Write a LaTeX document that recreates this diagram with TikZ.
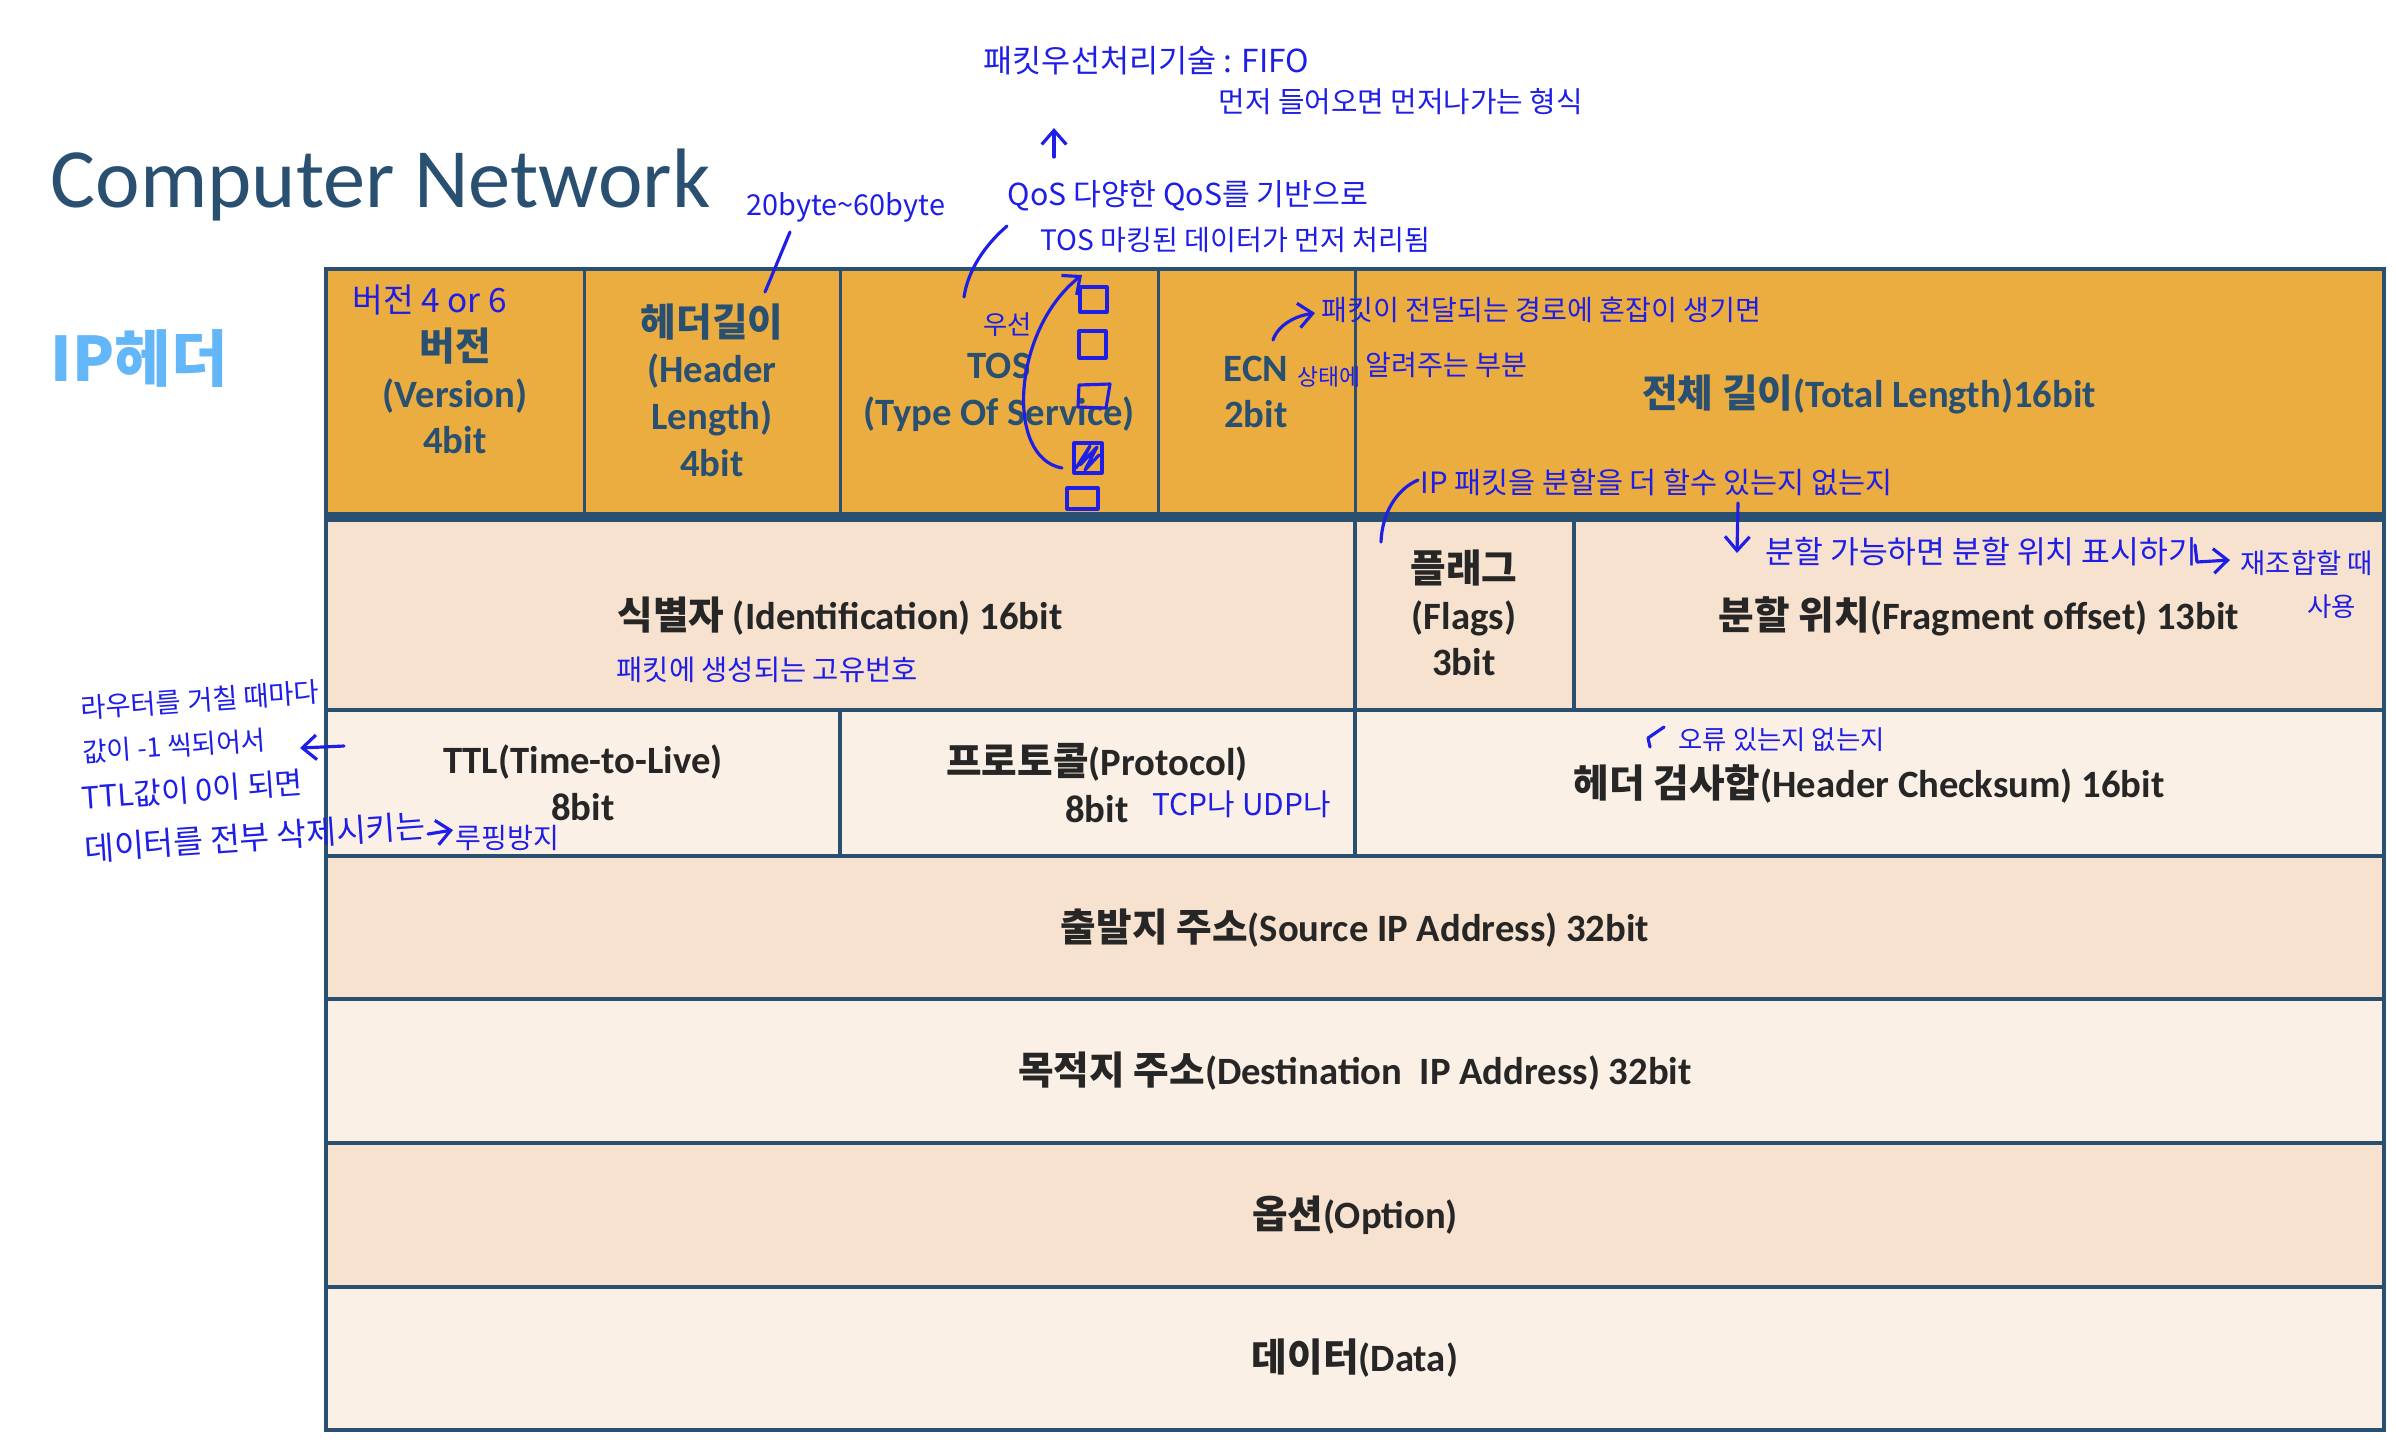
\documentclass[tikz,border=0pt]{standalone}
\usepackage{fontspec}
\setmainfont{Carlito}
\newfontfamily\krfont{Noto Sans CJK KR}
\usetikzlibrary{arrows.meta}

\definecolor{cnavy}{RGB}{41,79,113}
\definecolor{corange}{RGB}{235,173,64}
\definecolor{cpeach}{RGB}{247,226,207}
\definecolor{ccream}{RGB}{251,240,230}
\definecolor{csky}{RGB}{99,182,248}
\definecolor{cink}{RGB}{38,38,38}
\definecolor{cpen}{RGB}{30,30,230}

\newcommand{\kor}[1]{{\krfont #1}}

\begin{document}
\begin{tikzpicture}[x=0.01cm, y=-0.01cm,
    field/.style={align=center, font=\bfseries\fontsize{11}{13.3}\selectfont, text=cink, inner sep=0pt},
    hfield/.style={field, text=cnavy},
    gridline/.style={draw=cnavy, line width=1.1pt},
    note/.style={text=cpen, font=\krfont\fontsize{#1}{#1}\selectfont, inner sep=0pt, anchor=west},
    note/.default=8.5,
    stroke/.style={draw=cpen, line width=0.9pt, line cap=round, line join=round},
    strokearrow/.style={stroke, -{Straight Barb[length=4pt, width=7pt]}}
]
\useasboundingbox (0,0) rectangle (2396,1444);

% Title
\node[anchor=base west, font=\fontsize{24}{28}\selectfont, text=cnavy, inner sep=0pt] (title) at (50,207) {Computer Network};
\node[anchor=west, font=\krfont\bfseries\fontsize{17.5}{20}\selectfont, text=csky, inner sep=0pt] (iphdr) at (50,359) {IP헤더};

% Rows
\fill[corange] (326,269) rectangle (2384,517);
\fill[cpeach] (326,517) rectangle (2384,710);
\fill[ccream] (326,710) rectangle (2384,856);
\fill[cpeach] (326,856) rectangle (2384,999);
\fill[ccream] (326,999) rectangle (2384,1143);
\fill[cpeach] (326,1143) rectangle (2384,1287);
\fill[ccream] (326,1287) rectangle (2384,1430);

% Grid
\draw[gridline, line width=0.85pt] (584,269) -- (584,517);
\draw[gridline, line width=0.85pt] (840,269) -- (840,517);
\draw[gridline, line width=0.85pt] (1158,269) -- (1158,517);
\draw[gridline, line width=0.85pt] (1355,269) -- (1355,517);
\draw[gridline] (1355,517) -- (1355,856);
\draw[gridline] (1574,517) -- (1574,710);
\draw[gridline] (840,710) -- (840,856);
\draw[gridline] (326,710) -- (2384,710);
\draw[gridline] (326,856) -- (2384,856);
\draw[gridline] (326,999) -- (2384,999);
\draw[gridline] (326,1143) -- (2384,1143);
\draw[gridline] (326,1287) -- (2384,1287);
\draw[gridline] (326,269) rectangle (2384,1430);
\draw[gridline, line width=2.85pt] (326,517) -- (2384,517);

% Header fields
\node[hfield] (version) at (455,391) {\kor{버전}\\(Version)\\4bit};
\node[hfield] (hlen) at (712,390) {\kor{헤더길이}\\(Header\\Length)\\4bit};
\node[hfield] (tos) at (999,392) {TOS\\(Type Of Service)};
\node[hfield] (ecn) at (1256,392) {ECN\\2bit};
\node[hfield] (total) at (1869,394) {\kor{전체 길이}(Total Length)16bit};
\node[field] (ident) at (840,616) {\kor{식별자} (Identification) 16bit};
\node[field] (flags) at (1464,613) {\kor{플래그}\\(Flags)\\3bit};
\node[field] (frag) at (1979,616) {\kor{분할 위치}(Fragment offset) 13bit};
\node[field] (ttl) at (583,783) {TTL(Time-to-Live)\\8bit};
\node[field] (proto) at (1097,783) {\kor{프로토콜}(Protocol)\\8bit};
\node[field] (cksum) at (1869,784) {\kor{헤더 검사합}(Header Checksum) 16bit};
\node[field] (src) at (1355,928) {\kor{출발지 주소}(Source IP Address) 32bit};
\node[field] (dst) at (1355,1071) {\kor{목적지 주소}(Destination~ IP Address) 32bit};
\node[field] (opt) at (1355,1215) {\kor{옵션}(Option)};
\node[field] (data) at (1355,1358) {\kor{데이터}(Data)};

% Notes
\node[note=9] (fifo) at (983,61) {패킷우선처리기술 : FIFO};
\node[note=8.2] (fifodesc) at (1218,102) {먼저 들어오면 먼저나가는 형식};
\node[note=8.6] (qos) at (1007,196) {QoS 다양한 QoS를 기반으로};
\node[note=8] (qosdesc) at (1040,240) {TOS 마킹된 데이터가 먼저 처리됨};
\node[note=8.2] (hlennote) at (746,207) {20byte\textasciitilde60byte};
\node[note=9.5] (vernote) at (352,300) {버전 4 or 6};
\node[note=7.5] (prio) at (983,325) {우선};
\node[note=8] (ecnnote) at (1321,310) {패킷이 전달되는 경로에 혼잡이 생기면};
\node[note=6.5] (ecnstate) at (1297,377) {상태에};
\node[note=8] (ecntell) at (1365,365) {알려주는 부분};
\node[note=8.35] (fragq) at (1420,482) {IP 패킷을 분할을 더 할수 있는지 없는지};
\node[note=8.9] (fragnote) at (1765,552) {분할 가능하면 분할 위치 표시하기};
\node[note=7.8] (reasm) at (2240,563) {재조합할 때};
\node[note=7.5] (reuse) at (2307,607) {사용};
\node[note=8.1] (idnote) at (616,670) {패킷에 생성되는 고유번호};
\node[note=7.8, anchor=center, rotate=4] (ttl1) at (200,700) {라우터를 거칠 때마다};
\node[note=7.6, anchor=center, rotate=4] (ttl2) at (174,746) {값이 -1 씩되어서};
\node[note=8.6, anchor=center, rotate=4] (ttl3) at (192,790) {TTL값이 0이 되면};
\node[note=9.2, anchor=center, rotate=4] (ttl4) at (255,837) {데이터를 전부 삭제시키는};
\node[note=8] (loop) at (455,838) {루핑방지};
\node[note=8.5] (protonote) at (1152,804) {TCP나 UDP나};
\node[note=7.5] (cksumnote) at (1678,740) {오류 있는지 없는지};

% TOS check boxes
\draw[stroke] (1080,287) rectangle (1107,312);
\draw[stroke] (1079,331) rectangle (1106,358);
\draw[stroke] (1079,385) -- (1110,384) -- (1106,408) -- (1078,407) -- cycle;
\draw[stroke] (1074,443) rectangle (1102,473);
\draw[stroke] (1076,468) -- (1090,446) -- (1080,465) -- (1097,447) -- (1085,470) -- (1099,455);
\draw[stroke] (1067,488) rectangle (1098,509);

% Strokes
\coordinate (qosend) at (964,297);
\coordinate (hlenend) at (765,292);
\coordinate (checked) at (1062,468);
\coordinate (topbox) at (1082,275);
\draw[strokearrow] (1054,157) -- (1054,128);
\draw[stroke] (1007,226) .. controls (985,245) and (968,270) .. (qosend);
\draw[stroke] (790,232) -- (hlenend);
\draw[strokearrow] (checked) .. controls (1005,458) and (1012,330) .. (topbox);
\draw[strokearrow] (1273,340) .. controls (1278,325) and (1295,316) .. (1315,313);
\draw[stroke] (1418,480) .. controls (1395,490) and (1382,515) .. (1381,542);
\draw[strokearrow] (1738,503) -- (1737,553);
\draw[strokearrow] (2195,545) -- (2197,562) -- (2230,560);
\draw[strokearrow] (344,746) -- (300,748);
\draw[strokearrow] (428,834) -- (453,830);
\draw[stroke] (1664,727) -- (1648,738) -- (1650,747);

\end{tikzpicture}
\end{document}
